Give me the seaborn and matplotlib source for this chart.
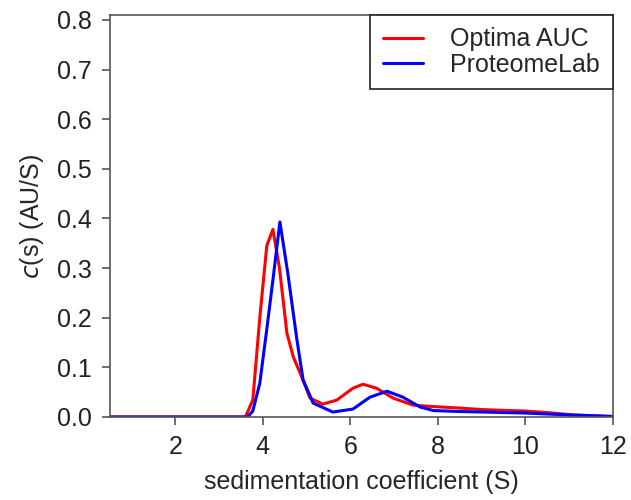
import numpy as np
import pandas as pd
import matplotlib
matplotlib.use("Agg")
import matplotlib.pyplot as plt
import seaborn as sns

# c(s) distributions
optima_s = [0.5, 3.0, 3.6, 3.77, 3.93, 4.09, 4.23, 4.38, 4.55, 4.7, 4.85, 5.08, 5.37,
            5.69, 6.06, 6.29, 6.6, 6.98, 7.43, 7.9, 8.5, 9.0, 10.0, 10.5, 11.1, 12.0]
optima_c = [0.0, 0.0, 0.0, 0.034, 0.2, 0.345, 0.378, 0.3, 0.169, 0.12, 0.089, 0.038, 0.026,
            0.034, 0.058, 0.066, 0.058, 0.038, 0.024, 0.021, 0.018, 0.015, 0.012, 0.009, 0.004, 0.001]

proteome_s = [0.5, 3.0, 3.65, 3.77, 3.93, 4.08, 4.23, 4.39, 4.57, 4.78, 4.92, 5.15, 5.6,
              6.06, 6.45, 6.84, 7.2, 7.6, 7.9, 8.5, 9.0, 10.0, 10.5, 11.1, 12.0]
proteome_c = [0.0, 0.0, 0.0, 0.012, 0.068, 0.17, 0.276, 0.393, 0.29, 0.155, 0.075, 0.028, 0.01,
              0.016, 0.04, 0.052, 0.04, 0.02, 0.013, 0.011, 0.01, 0.008, 0.006, 0.004, 0.001]

labels = ["Optima AUC", "ProteomeLab"]
colors = ["#ff0000", "#0000ff"]

df = pd.concat([
    pd.DataFrame({"s": optima_s, "c": optima_c, "run": labels[0]}),
    pd.DataFrame({"s": proteome_s, "c": proteome_c, "run": labels[1]}),
])

sns.set_theme(style="ticks")
plt.rcParams["font.family"] = ["Liberation Sans", "DejaVu Sans"]

fig = plt.figure(figsize=(6.31, 5.0), dpi=100)
ax = fig.add_axes([0.174, 0.166, 0.797, 0.804])

sns.lineplot(data=df, x="s", y="c", hue="run", palette=colors, sort=False,
             linewidth=2.2, ax=ax, estimator=None)

ax.set_xlim(0.5, 12)
ax.set_ylim(0, 0.81)
ax.set_xticks([2, 4, 6, 8, 10, 12])
ax.set_yticks(np.arange(0, 0.81, 0.1))
ax.set_yticklabels([f"{v:.1f}" for v in np.arange(0, 0.81, 0.1)])
ax.tick_params(labelsize=18, length=6, width=1.2, colors="#222222", pad=7)
ax.tick_params(which="both", color="#555555")
ax.set_xlabel("sedimentation coefficient (S)", fontsize=18, labelpad=8)
ax.set_ylabel(r"$\it{c}$(s) (AU/S)", fontsize=18, labelpad=8)
for sp in ax.spines.values():
    sp.set_visible(True)
    sp.set_color("#555555")
    sp.set_linewidth(1.2)

leg = ax.legend(title=None, loc="upper right", fontsize=18, frameon=True,
                fancybox=False, borderaxespad=0.0, handlelength=1.6,
                labelspacing=0.05, borderpad=0.5, handletextpad=1.1)
leg.get_frame().set_edgecolor("#222222")
leg.get_frame().set_linewidth(1.2)
leg.get_frame().set_alpha(1.0)

fig.savefig("out.png", dpi=100)
